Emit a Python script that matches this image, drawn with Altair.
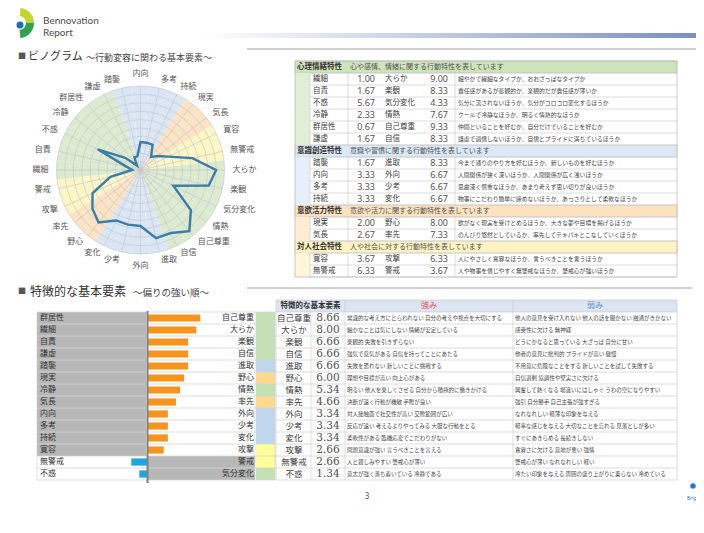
import math
import altair as alt
import pandas as pd

JP = "Noto Sans CJK JP"
INK = "#404040"

# ================= data =================
group_names = ["心理情緒特性", "意識創造特性", "意欲活力特性", "対人社会特性"]
group_descs = ["心や感情、情緒に関する行動特性を表しています",
               "意識や習慣に関する行動特性を表しています",
               "意欲や活力に関する行動特性を表しています",
               "人や社会に対する行動特性を表しています"]

pair_left = ["繊細", "自責", "不惑", "冷静", "群居性", "謙虚", "踏襲", "内向", "多考", "持続", "現実", "気長", "寛容", "無警戒"]
pair_left_val = [1.00, 1.67, 5.67, 2.33, 0.67, 1.67, 1.67, 3.33, 3.33, 3.33, 2.00, 2.67, 3.67, 6.33]
pair_right = ["大らか", "楽観", "気分変化", "情熱", "自己尊重", "自信", "進取", "外向", "少考", "変化", "野心", "率先", "攻撃", "警戒"]
pair_right_val = [9.00, 8.33, 4.33, 7.67, 9.33, 8.33, 8.33, 6.67, 6.67, 6.67, 8.00, 7.33, 6.33, 3.67]
pair_group = [0, 0, 0, 0, 0, 0, 1, 1, 1, 1, 2, 2, 3, 3]
pair_desc = ["細やかで繊細なタイプか、おおざっぱなタイプか",
             "責任感があるが悲観的か、楽観的だが責任感が薄いか",
             "気分に流されないほうか、気分がコロコロ変化するほうか",
             "クールで冷静なほうか、明るく情熱的なほうか",
             "仲間といることを好むか、自分だけでいることを好むか",
             "謙虚で過信しないほうか、自信とプライドに満ちているほうか",
             "今まで通りのやり方を好むほうか、新しいものを好むほうか",
             "人間関係が狭く深いほうか、人間関係が広く浅いほうか",
             "思慮深く慎重なほうか、あまり考えず思い切りが良いほうか",
             "物事にこだわり簡単に諦めないほうか、あっさりとして柔軟なほうか",
             "欲がなく現実を受けとめるほうか、大きな夢や目標を掲げるほうか",
             "のんびり悠然としているか、率先してテキパキとこなしていくほうか",
             "人にやさしく寛容なほうか、言うべきことを言うほうか",
             "人や物事を信じやすく無警戒なほうか、警戒心が強いほうか"]

radar_order = ["内向", "多考", "持続", "現実", "気長", "寛容", "無警戒", "大らか", "楽観", "気分変化",
               "情熱", "自己尊重", "自信", "進取", "外向", "少考", "変化", "野心", "率先", "攻撃",
               "警戒", "繊細", "自責", "不惑", "冷静", "群居性", "謙虚", "踏襲"]

rank_left = ["群居性", "繊細", "自責", "謙虚", "踏襲", "現実", "冷静", "気長", "内向", "多考", "持続", "寛容", "無警戒", "不惑"]
rank_right = ["自己尊重", "大らか", "楽観", "自信", "進取", "野心", "情熱", "率先", "外向", "少考", "変化", "攻撃", "警戒", "気分変化"]
rank_side = ["R"] * 12 + ["L"] * 2
rank_value = [8.66, 8.00, 6.66, 6.66, 6.66, 6.00, 5.34, 4.66, 3.34, 3.34, 3.34, 2.66, 2.66, 1.34]
rank_group = [0, 0, 0, 0, 1, 2, 0, 2, 1, 1, 1, 3, 3, 0]
rank_name = ["自己尊重", "大らか", "楽観", "自信", "進取", "野心", "情熱", "率先", "外向", "少考", "変化", "攻撃", "無警戒", "不惑"]
rank_strength = ["常識的な考え方にとらわれない 自分の考えや視点を大切にする",
                 "細かなことは気にしない 情緒が安定している",
                 "楽観的 失敗を引きずらない",
                 "強気で意気がある 自信を持ってことにあたる",
                 "失敗を恐れない 新しいことに挑戦する",
                 "理想や目標が高い 向上心がある",
                 "明るい 他人を楽しくさせる 自分から積極的に働きかける",
                 "決断が速く行動が機敏 手際が良い",
                 "対人接触面で社交性が高い 交際範囲が広い",
                 "反応が速い 考えるよりやってみる 大胆な行動をとる",
                 "柔軟性がある 臨機応変でこだわりがない",
                 "問題意識が強い 言うべきことを言える",
                 "人と親しみやすい 警戒心が薄い",
                 "意志が強く落ち着いている 冷静である"]
rank_weakness = ["他人の意見を受け入れない 他人の話を聞かない 融通がきかない",
                 "感受性に欠ける 無神経",
                 "どうにかなると思っている 大ざっぱ 自分に甘い",
                 "他者の意見に批判的 プライドが高い 傲慢",
                 "不用意に危険なことをする 新しいことを試して失敗する",
                 "自信過剰 協調性や堅実さに欠ける",
                 "興奮して熱くなる 場違いにはしゃぐ うわの空になりやすい",
                 "強引 自分勝手 自己主張が強すぎる",
                 "なれなれしい 軽薄な印象を与える",
                 "軽率な感じを与える 大切なことを忘れる 見落としが多い",
                 "すぐにあきらめる 長続きしない",
                 "寛容さに欠ける 意地が悪い 強情",
                 "警戒心が薄い なれなれしい 軽い",
                 "冷たい印象を与える 周囲の盛り上がりに乗らない 冷めている"]

# ================= styles / layout =================
pale = ["#dcebd0", "#dbe6f4", "#fbe3c3", "#fcf5c4"]
head_col = ["#cde4bb", "#dbe8f5", "#fde2bf", "#fff3c2"]
strip_col = ["#e1eed6", "#e6eff9", "#feecd4", "#fff7d8"]
swatch_col = ["#c5e0b3", "#bdd7ee", "#ffd98e", "#ffff99"]
LINE = "#c8c8c8"

CX, CY, R = 132.5, 162.0, 84.0
T1_TOP, RH = 53, 12

one = pd.DataFrame({"k": [0]})
layers = []


def txt(text, x, y, size=8, color=INK, align="left", weight="normal", font=JP, baseline="middle"):
    return alt.Chart(one).mark_text(text=text, fontSize=size, color=color, align=align,
                                    fontWeight=weight, font=font, baseline=baseline).encode(
        x=alt.value(x), y=alt.value(y))


def gcolor(rng):
    return alt.Color("group:N", scale=alt.Scale(domain=group_names, range=rng), legend=None)


# ---------------- header decorations ----------------
grad = alt.LinearGradient(gradient="linear", x1=0, x2=1, y1=0, y2=0,
                          stops=[alt.GradientStop(color="#ffffff", offset=0),
                                 alt.GradientStop(color="#d8dfec", offset=0.3),
                                 alt.GradientStop(color="#7b90bd", offset=1)])
layers.append(alt.Chart(one).mark_rect(color=grad).encode(
    x=alt.value(192), x2=alt.value(688), y=alt.value(25), y2=alt.value(30)))
layers.append(alt.Chart(one).mark_rule(color="#a0a0a0", strokeWidth=1).encode(
    x=alt.value(239), x2=alt.value(688), y=alt.value(41)))
layers.append(alt.Chart(one).mark_rule(color="#a0a0a0", strokeWidth=1).encode(
    x=alt.value(239), x2=alt.value(684), y=alt.value(280)))

# logo
layers.append(alt.Chart(one).mark_arc(color="#c2d62e", theta=0.1, theta2=1.55, radius=15, radius2=7).encode(
    x=alt.value(11), y=alt.value(15)))
layers.append(alt.Chart(one).mark_arc(color="#2fa34f", theta=1.55, theta2=3.05, radius=15, radius2=7).encode(
    x=alt.value(11), y=alt.value(15)))
layers.append(alt.Chart(one).mark_point(filled=True, color="#1c6fb8", size=49, opacity=1).encode(
    x=alt.value(12), y=alt.value(17)))
layers.append(txt("Bennovation", 35, 12.5, size=10, color="#4d4d4d", font="Lato"))
layers.append(txt("Report", 35, 25, size=10, color="#4d4d4d", font="Lato"))

# section titles
layers.append(txt("■", 10, 49, size=8, color="#555555"))
layers.append(txt("ビノグラム", 20, 49, size=11, color="#333333"))
layers.append(txt("～行動変容に関わる基本要素～", 78, 50, size=9, color="#444444"))
layers.append(txt("■", 10, 284, size=8, color="#555555"))
layers.append(txt("特徴的な基本要素", 22, 284, size=12, color="#333333"))
layers.append(txt("～偏りの強い順～", 125, 285, size=9.5, color="#444444"))

# ---------------- radar ----------------
lab2val, lab2grp = {}, {}
for l, lv, r, rv, g in zip(pair_left, pair_left_val, pair_right, pair_right_val, pair_group):
    lab2val[l], lab2val[r] = lv, rv
    lab2grp[l], lab2grp[r] = g, g
n_ax = len(radar_order)
step = 2 * math.pi / n_ax
radar = pd.DataFrame({
    "i": list(range(n_ax)),
    "label": radar_order,
    "value": [lab2val[l] for l in radar_order],
    "group": [group_names[lab2grp[l]] for l in radar_order],
})
radar["a"] = radar["i"] * step
radar["t0"] = ((radar["i"] - 0.5) % n_ax) * step
radar["t1"] = radar["t0"] + step


def side(a):
    s, c = math.sin(a), math.cos(a)
    if s > 0.15:
        return "L"
    if s < -0.15:
        return "R"
    return "T" if c > 0 else "B"


radar["side"] = radar["a"].map(side)

rx = alt.Scale(domain=[-10, 10], range=[CX - R, CX + R], nice=False, zero=False)
ry = alt.Scale(domain=[-10, 10], range=[CY + R, CY - R], nice=False, zero=False)

layers.append(alt.Chart(radar).mark_arc().encode(
    theta=alt.Theta("t0:Q", scale=None, stack=False), theta2="t1:Q",
    radius=alt.value(R), x=alt.value(CX), y=alt.value(CY), color=gcolor(pale)))

rings = pd.DataFrame({"r": list(range(1, 11))})
rings["t0"] = 0.0
rings["t1"] = 2 * math.pi
layers.append(alt.Chart(rings).mark_arc(fillOpacity=0, stroke="#bfc4ca", strokeWidth=0.6).encode(
    theta=alt.Theta("t0:Q", scale=None, stack=False), theta2="t1:Q",
    radius=alt.Radius("r:Q", scale=alt.Scale(type="linear", domain=[0, 10], range=[0, R])),
    x=alt.value(CX), y=alt.value(CY)))

layers.append(alt.Chart(radar).transform_calculate(
    z="0", ex="10*sin(datum.a)", ey="10*cos(datum.a)").mark_rule(color="#bfc4ca", strokeWidth=0.6).encode(
    x=alt.X("z:Q", scale=rx, axis=None), x2="ex:Q",
    y=alt.Y("z:Q", scale=ry, axis=None), y2="ey:Q"))

layers.append(alt.Chart(radar).transform_calculate(
    px="datum.value*sin(datum.a)", py="datum.value*cos(datum.a)").mark_line(
    interpolate="linear-closed", color="#3b7ca8", strokeWidth=2.4).encode(
    x=alt.X("px:Q", scale=rx, axis=None), y=alt.Y("py:Q", scale=ry, axis=None), order="i:Q"))

for sd, al, bl in [("L", "left", "middle"), ("R", "right", "middle"), ("T", "center", "bottom"), ("B", "center", "top")]:
    layers.append(alt.Chart(radar).transform_filter(alt.datum.side == sd).transform_calculate(
        lx="10.95*sin(datum.a)", ly="10.95*cos(datum.a)").mark_text(
        font=JP, fontSize=8, color="#555555", align=al, baseline=bl).encode(
        x=alt.X("lx:Q", scale=rx, axis=None), y=alt.Y("ly:Q", scale=ry, axis=None), text="label:N"))

# ---------------- table 1 ----------------
rows = []
r = 0
for g in range(4):
    rows.append(dict(row=r, kind="h", group=group_names[g], a=group_names[g], b=group_descs[g]))
    r += 1
    for k in range(len(pair_left)):
        if pair_group[k] == g:
            rows.append(dict(row=r, kind="i", group=group_names[g], n1=pair_left[k], v1=pair_left_val[k],
                             n2=pair_right[k], v2=pair_right_val[k], desc=pair_desc[k]))
            r += 1
t1 = pd.DataFrame(rows)
t1["r0"] = t1["row"]
t1["r1"] = t1["row"] + 1
t1["rc"] = t1["row"] + 0.5
N1 = len(t1)
y1 = alt.Scale(domain=[0, N1], range=[T1_TOP, T1_TOP + N1 * RH], nice=False, zero=False)
head = t1[t1["kind"] == "h"]
items = t1[t1["kind"] == "i"]

layers.append(alt.Chart(head).mark_rect(stroke=LINE, strokeWidth=0.6).encode(
    x=alt.value(287), x2=alt.value(669), y=alt.Y("r0:Q", scale=y1, axis=None), y2="r1:Q", color=gcolor(head_col)))
layers.append(alt.Chart(items).mark_rect().encode(
    x=alt.value(287), x2=alt.value(302), y=alt.Y("r0:Q", scale=y1, axis=None), y2="r1:Q", color=gcolor(strip_col)))
bnd1 = pd.DataFrame({"b": list(range(N1 + 1))})
layers.append(alt.Chart(bnd1).mark_rule(color=LINE, strokeWidth=0.6).encode(
    x=alt.value(302), x2=alt.value(669), y=alt.Y("b:Q", scale=y1, axis=None)))
for X in [302, 340, 447]:
    layers.append(alt.Chart(items).mark_rule(color=LINE, strokeWidth=0.6).encode(
        x=alt.value(X), y=alt.Y("r0:Q", scale=y1, axis=None), y2="r1:Q"))
layers.append(alt.Chart(one).mark_rect(fillOpacity=0, stroke="#bdbdbd", strokeWidth=0.8).encode(
    x=alt.value(287), x2=alt.value(669), y=alt.value(T1_TOP), y2=alt.value(T1_TOP + N1 * RH)))

layers.append(alt.Chart(head).mark_text(font=JP, fontSize=7.5, fontWeight="bold", color="#333333", align="left").encode(
    x=alt.value(289), y=alt.Y("rc:Q", scale=y1, axis=None), text="a:N"))
layers.append(alt.Chart(head).mark_text(font=JP, fontSize=7, color="#555555", align="left").encode(
    x=alt.value(342), y=alt.Y("rc:Q", scale=y1, axis=None), text="b:N"))
layers.append(alt.Chart(items).mark_text(font=JP, fontSize=7.5, color=INK, align="left").encode(
    x=alt.value(305), y=alt.Y("rc:Q", scale=y1, axis=None), text="n1:N"))
layers.append(alt.Chart(items).mark_text(font="Noto Sans", fontSize=9, color="#555555", align="right").encode(
    x=alt.value(367), y=alt.Y("rc:Q", scale=y1, axis=None), text=alt.Text("v1:Q", format=".2f")))
layers.append(alt.Chart(items).mark_text(font=JP, fontSize=7.5, color=INK, align="left").encode(
    x=alt.value(377), y=alt.Y("rc:Q", scale=y1, axis=None), text="n2:N"))
layers.append(alt.Chart(items).mark_text(font="Noto Sans", fontSize=9, color="#555555", align="right").encode(
    x=alt.value(440), y=alt.Y("rc:Q", scale=y1, axis=None), text=alt.Text("v2:Q", format=".2f")))
layers.append(alt.Chart(items).mark_text(font=JP, fontSize=5.8, color="#444444", align="left").encode(
    x=alt.value(450), y=alt.Y("rc:Q", scale=y1, axis=None), text="desc:N"))

# ---------------- ranking bars + table 2 ----------------
rk = pd.DataFrame({
    "row": list(range(len(rank_left))), "left": rank_left, "right": rank_right, "side": rank_side,
    "value": rank_value, "group": [group_names[g] for g in rank_group], "name": rank_name,
    "strength": rank_strength, "weakness": rank_weakness})
NK = len(rk)
rk["r0"] = rk["row"]
rk["r1"] = rk["row"] + 1
rk["rc"] = rk["row"] + 0.5
rk["b0"] = rk["row"] + 0.2
rk["b1"] = rk["row"] + 0.8
yk = alt.Scale(domain=[-1, NK], range=[292, 292 + (NK + 1) * RH], nice=False, zero=False)
bx = alt.Scale(domain=[-10, 10], range=[139.5 - 61, 139.5 + 61], nice=False, zero=False)
GRAY = "#b7b7b7"

layers.append(alt.Chart(rk).transform_filter(alt.datum.side == "R").mark_rect(color=GRAY).encode(
    x=alt.value(29), x2=alt.value(138), y=alt.Y("r0:Q", scale=yk, axis=None), y2="r1:Q"))
layers.append(alt.Chart(rk).transform_filter(alt.datum.side == "L").mark_rect(color=GRAY).encode(
    x=alt.value(140), x2=alt.value(247), y=alt.Y("r0:Q", scale=yk, axis=None), y2="r1:Q"))
layers.append(alt.Chart(rk).mark_rect().encode(
    x=alt.value(248), x2=alt.value(267), y=alt.Y("r0:Q", scale=yk, axis=None), y2="r1:Q", color=gcolor(swatch_col)))
layers.append(alt.Chart(one).mark_rect(color="#dce4f2").encode(
    x=alt.value(268), x2=alt.value(669), y=alt.value(292), y2=alt.value(304)))

bndk = pd.DataFrame({"b": list(range(NK + 1))})
layers.append(alt.Chart(bndk).mark_rule(color="#d4d4d4", strokeWidth=0.8).encode(
    x=alt.value(29), x2=alt.value(267), y=alt.Y("b:Q", scale=yk, axis=None)))
bnd2 = pd.DataFrame({"b": list(range(-1, NK + 1))})
layers.append(alt.Chart(bnd2).mark_rule(color=LINE, strokeWidth=0.6).encode(
    x=alt.value(268), x2=alt.value(669), y=alt.Y("b:Q", scale=yk, axis=None)))
for X in [29, 247, 267, 303]:
    layers.append(alt.Chart(rk).mark_rule(color="#cfcfcf", strokeWidth=0.6).encode(
        x=alt.value(X), y=alt.Y("r0:Q", scale=yk, axis=None), y2="r1:Q"))
for X in [268, 337, 505, 669]:
    layers.append(alt.Chart(bnd2.iloc[:-1]).transform_calculate(e="datum.b + 1").mark_rule(
        color=LINE, strokeWidth=0.6).encode(
        x=alt.value(X), y=alt.Y("b:Q", scale=yk, axis=None), y2="e:Q"))

layers.append(alt.Chart(rk).transform_calculate(
    z="0", s="datum.side == 'R' ? datum.value : -datum.value").mark_rect().encode(
    x=alt.X("z:Q", scale=bx, axis=None), x2="s:Q",
    y=alt.Y("b0:Q", scale=yk, axis=None), y2="b1:Q",
    color=alt.Color("side:N", scale=alt.Scale(domain=["R", "L"], range=["#f7941d", "#1ba6e0"]), legend=None)))
layers.append(alt.Chart(one).mark_rule(color="#7f7f7f", strokeWidth=2).encode(
    x=alt.value(139.5), y=alt.value(303), y2=alt.value(475)))

layers.append(alt.Chart(rk).mark_text(font=JP, fontSize=8, color="#333333", align="left").encode(
    x=alt.value(32), y=alt.Y("rc:Q", scale=yk, axis=None), text="left:N"))
layers.append(alt.Chart(rk).mark_text(font=JP, fontSize=8, color="#333333", align="right").encode(
    x=alt.value(246), y=alt.Y("rc:Q", scale=yk, axis=None), text="right:N"))

layers.append(txt("特徴的な基本要素", 302.5, 298, size=7.5, color="#333333", align="center", weight="bold"))
layers.append(txt("強み", 421, 298, size=8, color="#e2505c", align="center"))
layers.append(txt("弱み", 587, 298, size=8, color="#5b8fd0", align="center"))

layers.append(alt.Chart(rk).mark_text(font=JP, fontSize=8.5, color=INK, align="center").encode(
    x=alt.value(286), y=alt.Y("rc:Q", scale=yk, axis=None), text="name:N"))
layers.append(alt.Chart(rk).mark_text(font="DejaVu Serif", fontSize=10.5, color="#505050", align="center").encode(
    x=alt.value(320), y=alt.Y("rc:Q", scale=yk, axis=None), text=alt.Text("value:Q", format=".2f")))
layers.append(alt.Chart(rk).mark_text(font=JP, fontSize=5.5, color="#444444", align="left").encode(
    x=alt.value(339), y=alt.Y("rc:Q", scale=yk, axis=None), text="strength:N"))
layers.append(alt.Chart(rk).mark_text(font=JP, fontSize=5.5, color="#444444", align="left").encode(
    x=alt.value(507), y=alt.Y("rc:Q", scale=yk, axis=None), text="weakness:N"))

# footer
layers.append(txt("3", 359, 489, size=8, color="#555555", align="center", font="Noto Sans"))
layers.append(alt.Chart(one).mark_point(filled=True, color="#2a78c2", size=30, opacity=1).encode(
    x=alt.value(685), y=alt.value(478)))
layers.append(txt("Brig", 679, 490, size=5, color="#3a6fb0", font="Noto Sans"))

chart = alt.layer(*layers).resolve_scale(
    x="independent", y="independent", color="independent", radius="independent", theta="independent"
).properties(width=688, height=517, padding=0, autosize=alt.AutoSizeParams(type="none")).configure_view(stroke=None)

chart.save("out.html", embed_options={"renderer": "svg", "actions": False})
